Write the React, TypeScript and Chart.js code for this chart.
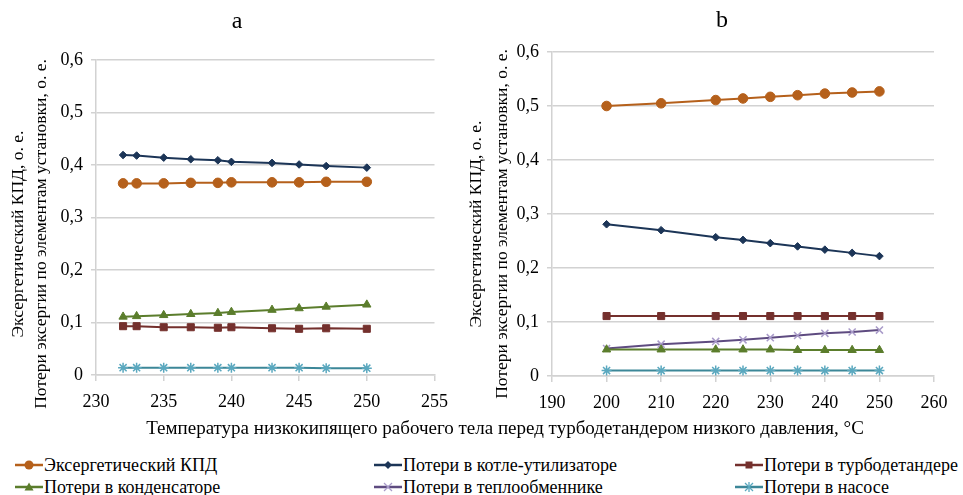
import React, { useEffect, useRef } from "react";
import { Chart, registerables } from "chart.js";

Chart.register(...registerables);

const SERIF = '"Liberation Serif", "Times New Roman", Times, serif';

// Panel a: temperatures and values
const tempA = [232, 233, 235, 237, 239, 240, 243, 245, 247, 250];
const effA = [0.365, 0.365, 0.365, 0.366, 0.366, 0.367, 0.367, 0.367, 0.368, 0.368];
const boilerA = [0.419, 0.418, 0.414, 0.411, 0.409, 0.406, 0.404, 0.401, 0.398, 0.395];
const turbineA = [0.093, 0.093, 0.091, 0.091, 0.09, 0.091, 0.089, 0.088, 0.089, 0.088];
const condenserA = [0.111, 0.112, 0.114, 0.116, 0.118, 0.12, 0.124, 0.127, 0.13, 0.134];
const pumpA = [0.014, 0.014, 0.014, 0.014, 0.014, 0.014, 0.014, 0.014, 0.013, 0.013];

// Panel b: temperatures and values
const tempB = [200, 210, 220, 225, 230, 235, 240, 245, 250];
const effB = [0.5, 0.505, 0.511, 0.514, 0.517, 0.52, 0.523, 0.525, 0.527];
const boilerB = [0.281, 0.27, 0.257, 0.252, 0.246, 0.24, 0.234, 0.228, 0.222];
const turbineB = [0.111, 0.111, 0.111, 0.111, 0.111, 0.111, 0.111, 0.111, 0.111];
const exchangerB = [0.051, 0.059, 0.064, 0.067, 0.071, 0.075, 0.079, 0.0815, 0.085];
const condenserB = [0.049, 0.049, 0.049, 0.049, 0.049, 0.048, 0.048, 0.048, 0.048];
const pumpB = [0.01, 0.01, 0.01, 0.01, 0.01, 0.01, 0.01, 0.01, 0.01];

const yTitleLines = ["Эксергетический КПД, о. е.", "Потери эксергии по элементам установки, о. е."];
const xTitle = "Температура низкокипящего рабочего тела перед турбодетандером низкого давления, °С";

type Style = {
  label: string;
  line: string;
  marker: string;
  shape: string;
  radius: number;
};

const STYLES: Record<string, Style> = {
  eff: { label: "Эксергетический КПД", line: "#B5601B", marker: "#B5601B", shape: "circle", radius: 4.8 },
  boiler: { label: "Потери в котле-утилизаторе", line: "#1C3557", marker: "#1C3557", shape: "rectRot", radius: 3.8 },
  turbine: { label: "Потери в турбодетандере", line: "#74302D", marker: "#74302D", shape: "rect", radius: 5 },
  condenser: { label: "Потери в конденсаторе", line: "#5B7D2C", marker: "#5B7D2C", shape: "triangle", radius: 4.8 },
  exchanger: { label: "Потери в теплообменнике", line: "#5E4B80", marker: "#A99BC9", shape: "crossRot", radius: 5 },
  pump: { label: "Потери в насосе", line: "#3C8798", marker: "#5AA8BF", shape: "star", radius: 5 },
};

const legendOrder = [
  ["eff", "boiler", "turbine"],
  ["condenser", "exchanger", "pump"],
];

const captionPlugin = {
  id: "panelCaption",
  afterDraw(chart: any, _args: any, opts: any) {
    const { ctx } = chart;
    ctx.save();
    ctx.fillStyle = "#000";
    ctx.textAlign = "center";
    ctx.textBaseline = "middle";
    ctx.font = `24px ${SERIF}`;
    ctx.fillText(opts.letter, opts.letterX, opts.letterY);
    ctx.font = `17.5px ${SERIF}`;
    yTitleLines.forEach((line, i) => {
      ctx.save();
      ctx.translate(opts.axisX[i], opts.axisY);
      ctx.rotate(-Math.PI / 2);
      ctx.fillText(line, 0, 0);
      ctx.restore();
    });
    ctx.restore();
  },
};

type PanelProps = {
  temps: number[];
  series: [string, number[]][];
  xMin: number;
  xMax: number;
  xStep: number;
  left: number;
  width: number;
  padTop: number;
  padRight: number;
  yWidth: number;
  xHeight: number;
  caption: any;
};

function Panel(p: PanelProps) {
  const ref = useRef<HTMLCanvasElement>(null);
  useEffect(() => {
    if (!ref.current) return;
    const grid = "#d2d2d2";
    const chart = new Chart(ref.current, {
      type: "line",
      data: {
        datasets: p.series.map(([key, vals]) => {
          const s = STYLES[key];
          return {
            label: s.label,
            data: p.temps.map((t, i) => ({ x: t, y: vals[i] })),
            borderColor: s.line,
            borderWidth: 2,
            pointStyle: s.shape as any,
            pointRadius: s.radius,
            pointBackgroundColor: s.marker,
            pointBorderColor: s.marker,
            pointBorderWidth: s.shape === "crossRot" || s.shape === "star" ? 1.5 : 1,
            tension: 0,
          };
        }),
      },
      options: {
        animation: false,
        responsive: false,
        layout: { padding: { top: p.padTop, right: p.padRight, left: 0, bottom: 0 } },
        plugins: {
          legend: { display: false },
          tooltip: { enabled: false },
          title: { display: false },
          panelCaption: p.caption,
        } as any,
        scales: {
          x: {
            type: "linear",
            min: p.xMin,
            max: p.xMax,
            ticks: {
              stepSize: p.xStep,
              color: "#000",
              font: { family: SERIF, size: 18 },
              padding: 10,
              maxRotation: 0,
            },
            grid: { drawOnChartArea: false, drawTicks: true, tickLength: 6, color: grid, lineWidth: 1.5 },
            border: { display: true, color: grid, width: 1.5 },
            afterFit: (axis: any) => {
              axis.height = p.xHeight;
            },
          },
          y: {
            min: 0,
            max: 0.6,
            ticks: {
              stepSize: 0.1,
              color: "#000",
              font: { family: SERIF, size: 18 },
              padding: 8,
              callback: (v: any) => (Number(v) === 0 ? "0" : Number(v).toFixed(1).replace(".", ",")),
            },
            grid: { drawOnChartArea: true, drawTicks: true, tickLength: 5, color: grid, lineWidth: 1.5 },
            border: { display: true, color: grid, width: 1.5 },
            afterFit: (axis: any) => {
              axis.width = p.yWidth;
            },
          },
        },
      },
      plugins: [captionPlugin as any],
    });
    return () => chart.destroy();
  }, []);
  return (
    <canvas
      ref={ref}
      width={p.width}
      height={420}
      style={{ position: "absolute", left: p.left, top: 0, width: p.width, height: 420 }}
    />
  );
}

function LegendSymbol({ k }: { k: string }) {
  const s = STYLES[k];
  const cx = 14;
  const cy = 7;
  let mark: React.ReactNode = null;
  if (s.shape === "circle") mark = <circle cx={cx} cy={cy} r={4.5} fill={s.marker} />;
  else if (s.shape === "rectRot")
    mark = <polygon points={`${cx},${cy - 4} ${cx + 4},${cy} ${cx},${cy + 4} ${cx - 4},${cy}`} fill={s.marker} />;
  else if (s.shape === "rect") mark = <rect x={cx - 3.5} y={cy - 3.5} width={7} height={7} fill={s.marker} />;
  else if (s.shape === "triangle")
    mark = <polygon points={`${cx},${cy - 4.5} ${cx + 4.5},${cy + 3.5} ${cx - 4.5},${cy + 3.5}`} fill={s.marker} />;
  else if (s.shape === "crossRot")
    mark = (
      <g stroke={s.marker} strokeWidth={1.3}>
        <line x1={cx - 4} y1={cy - 4} x2={cx + 4} y2={cy + 4} />
        <line x1={cx - 4} y1={cy + 4} x2={cx + 4} y2={cy - 4} />
      </g>
    );
  else if (s.shape === "star")
    mark = (
      <g stroke={s.marker} strokeWidth={1.3}>
        <line x1={cx - 4} y1={cy - 4} x2={cx + 4} y2={cy + 4} />
        <line x1={cx - 4} y1={cy + 4} x2={cx + 4} y2={cy - 4} />
        <line x1={cx} y1={cy - 5} x2={cx} y2={cy + 5} />
      </g>
    );
  return (
    <svg width={28} height={14} style={{ display: "block" }}>
      <line x1={0} y1={cy} x2={28} y2={cy} stroke={s.line} strokeWidth={2.5} />
      {mark}
    </svg>
  );
}

const legendCols = [15, 374, 735];
const legendRows = [465, 487];

export default function App() {
  return (
    <div
      style={{
        position: "fixed",
        left: 0,
        top: 0,
        width: 963,
        height: 495,
        background: "#fff",
        overflow: "hidden",
        fontFamily: SERIF,
      }}
    >
      <Panel
        temps={tempA}
        series={[
          ["eff", effA],
          ["boiler", boilerA],
          ["turbine", turbineA],
          ["condenser", condenserA],
          ["pump", pumpA],
        ]}
        xMin={230}
        xMax={255}
        xStep={5}
        left={0}
        width={458}
        padTop={60}
        padRight={20}
        yWidth={96}
        xHeight={45}
        caption={{ letter: "a", letterX: 237, letterY: 22, axisX: [18, 41], axisY: 234 }}
      />
      <Panel
        temps={tempB}
        series={[
          ["eff", effB],
          ["boiler", boilerB],
          ["turbine", turbineB],
          ["condenser", condenserB],
          ["exchanger", exchangerB],
          ["pump", pumpB],
        ]}
        xMin={190}
        xMax={260}
        xStep={10}
        left={458}
        width={505}
        padTop={52}
        padRight={29}
        yWidth={94}
        xHeight={44}
        caption={{ letter: "b", letterX: 264, letterY: 21, axisX: [18, 44], axisY: 224 }}
      />
      <div
        style={{
          position: "absolute",
          left: 0,
          width: 1010,
          top: 417,
          textAlign: "center",
          fontSize: 19,
          lineHeight: "22px",
          color: "#000",
          whiteSpace: "nowrap",
        }}
      >
        {xTitle}
      </div>
      {legendOrder.map((row, r) =>
        row.map((k, c) => (
          <div
            key={k}
            style={{
              position: "absolute",
              left: legendCols[c],
              top: legendRows[r] - 11,
              height: 22,
              display: "flex",
              alignItems: "center",
              fontSize: 18,
              color: "#000",
              whiteSpace: "nowrap",
            }}
          >
            <LegendSymbol k={k} />
            <span style={{ marginLeft: 1 }}>{STYLES[k].label}</span>
          </div>
        ))
      )}
    </div>
  );
}
